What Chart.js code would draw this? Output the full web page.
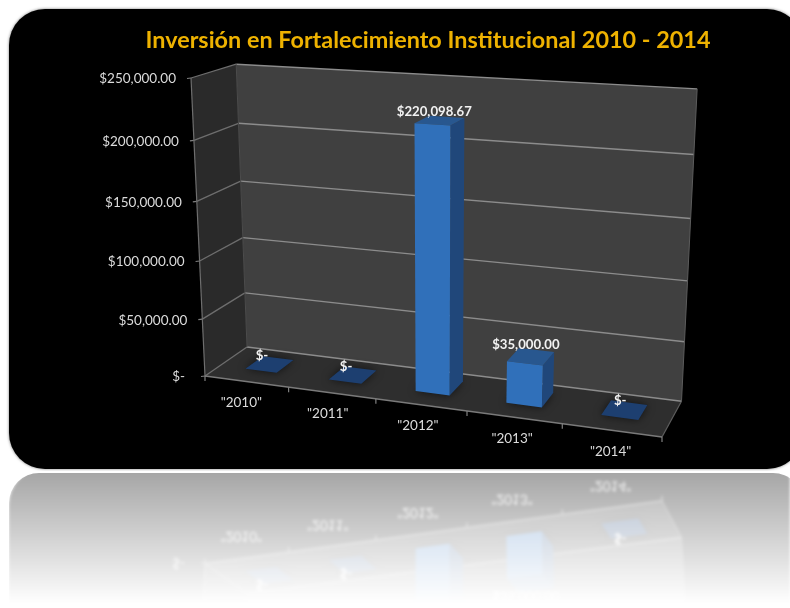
<!DOCTYPE html>
<html><head><meta charset="utf-8">
<style>html,body{margin:0;padding:0;background:#fff;overflow:hidden}canvas{display:block;filter:blur(0.45px)}</style>
<script src="https://cdn.jsdelivr.net/npm/chart.js@4"></script>
</head><body><canvas id="c" width="790" height="608"></canvas>
<script>
const categories = ['"2010"','"2011"','"2012"','"2013"','"2014"'];
const values = [0,0,220098.67,35000,0];
const titleText = 'Inversión en Fortalecimiento Institucional 2010 - 2014';
const yMax = 250000, yStep = 50000;

const FONT = 'Lato, Carlito, "Open Sans", sans-serif';
const money = (v)=> v===0 ? '$-' : '$'+v.toLocaleString('en-US',{minimumFractionDigits:2,maximumFractionDigits:2});

// cube corners on screen (u along categories, v along values, w depth)
const A=[205,376],C=[662,437],E=[191,78],B=[247,347];
const fit=[[1,0,1,[683,401]],[0,1,1,[238,66]],[1,1,1,[697,89]]];
function solveProj(){
  const rows=[],rhs=[];
  for(const [u,v,w,q] of fit){ for(const k of [0,1]){
    rows.push([u*(C[k]-q[k]),v*(E[k]-q[k]),w*(B[k]-q[k])]);
    rhs.push(q[k]-A[k]-u*(C[k]-A[k])-v*(E[k]-A[k])-w*(B[k]-A[k]));
  }}
  const M=[[0,0,0,0],[0,0,0,0],[0,0,0,0]];
  rows.forEach((r,n)=>{for(let i=0;i<3;i++){for(let j=0;j<3;j++)M[i][j]+=r[i]*r[j];M[i][3]+=r[i]*rhs[n];}});
  for(let i=0;i<3;i++){let p=i;for(let k=i+1;k<3;k++)if(Math.abs(M[k][i])>Math.abs(M[p][i]))p=k;
    [M[i],M[p]]=[M[p],M[i]];
    for(let k=0;k<3;k++){if(k===i)continue;const f=M[k][i]/M[i][i];for(let j=i;j<4;j++)M[k][j]-=f*M[i][j];}}
  return [M[0][3]/M[0][0],M[1][3]/M[1][1],M[2][3]/M[2][2]];
}
const [pp,qq,rr]=solveProj();
function P(u,v,w){
  const d=1+pp*u+qq*v+rr*w;
  return [0,1].map(k=>(A[k]+u*(C[k]*(1+pp)-A[k])+v*(E[k]*(1+qq)-A[k])+w*(B[k]*(1+rr)-A[k]))/d);
}
function poly(ctx,pts,fill){ctx.beginPath();pts.forEach((p,i)=>i?ctx.lineTo(p[0],p[1]):ctx.moveTo(p[0],p[1]));ctx.closePath();if(fill){ctx.fillStyle=fill;ctx.fill();}}
function line(ctx,a,b,col,lw){ctx.beginPath();ctx.moveTo(a[0],a[1]);ctx.lineTo(b[0],b[1]);ctx.strokeStyle=col;ctx.lineWidth=lw;ctx.stroke();}
function panelPath(ctx){ctx.beginPath();ctx.roundRect(9,9,794,460,36);}

const scene={
  id:'scene',
  beforeDraw(chart){
    const ctx=chart.ctx;ctx.save();
    ctx.fillStyle='#fff';ctx.fillRect(0,0,790,608);
    panelPath(ctx);ctx.fillStyle='#000';ctx.shadowColor='rgba(0,0,0,.55)';ctx.shadowBlur=3;ctx.fill();
    ctx.restore();
  },
  beforeDatasetsDraw(chart){
    const ctx=chart.ctx,x=chart.scales.x,y=chart.scales.y;
    const uOf=px=>(px-x.left)/x.width, vOf=py=>(y.bottom-py)/(y.bottom-y.top);
    ctx.save();
    // walls and floor
    poly(ctx,[P(0,1,1),P(1,1,1),P(1,0,1),P(0,0,1)],'#404040');
    poly(ctx,[P(0,1,0),P(0,1,1),P(0,0,1),P(0,0,0)],'#2a2a2a');
    poly(ctx,[P(0,0,0),P(1,0,0),P(1,0,1),P(0,0,1)],'#2e2e2e');
    // grid from the value axis ticks
    y.ticks.forEach(t=>{
      const v=vOf(y.getPixelForValue(t.value));
      line(ctx,P(0,v,0),P(0,v,1),'#6e6e6e',1.3);
      line(ctx,P(0,v,1),P(1,v,1),'#8c8c8c',1.4);
      const f=P(0,v,0);
      line(ctx,[f[0]-4,f[1]+.5],f,'#808080',1.2);
      ctx.fillStyle=y.options.ticks.color;ctx.font='13.5px '+FONT;ctx.textAlign='right';ctx.textBaseline='middle';
      ctx.fillText(t.label,f[0]-(v===0?20:15),f[1]+1);
    });
    line(ctx,P(0,1,0),P(0,0,0),'#6e6e6e',1.2);
    line(ctx,P(0,1,1),P(0,0,1),'#4c4c4c',1);
    line(ctx,P(1,1,1),P(1,0,1),'#5c5c5c',1);
    line(ctx,P(1,0,1),P(1,0,0),'#5e5e5e',1.2);
    line(ctx,P(0,0,0),P(1,0,0),'#7a7a7a',1.3);
    const band=x.width/categories.length;
    for(let i=0;i<=categories.length;i++){
      const f=P(uOf(x.left+i*band),0,0);
      line(ctx,f,[f[0],f[1]+5],'#808080',1.2);
    }
    categories.forEach((c,i)=>{
      const f=P(uOf(x.getPixelForValue(i)),0,0);
      ctx.fillStyle=x.options.ticks.color;ctx.font='13.5px '+FONT;ctx.textAlign='center';ctx.textBaseline='middle';
      ctx.fillText(c,f[0]-1-(4-i),f[1]+21);
    });
    // bars from the bar elements laid out by the library
    const meta=chart.getDatasetMeta(0), w0=.35,w1=.78;
    const labels=[];
    meta.data.forEach((el,i)=>{
      const u0=uOf(el.x-el.width/2),u1=uOf(el.x+el.width/2),v=vOf(el.y);
      ctx.save();ctx.shadowColor='rgba(0,0,0,.6)';ctx.shadowBlur=9;
      poly(ctx,[P(u0,0,w0),P(u1,0,w0),P(u1,0,w1),P(u0,0,w1)],'#1f1f1f');ctx.restore();
      if(v>0.001){
        const a=P(u0,v,w0),b=P(u1,v,w0);
        poly(ctx,[P(u1,0,w0),P(u1,0,w1),P(u1,v,w1),b],'#20477a');
        poly(ctx,[a,b,P(u1,v,w1),P(u0,v,w1)],'#28578f');
        poly(ctx,[a,b,P(u1,0,w0),P(u0,0,w0)],'#3070ba');
      } else {
        poly(ctx,[P(u0,0,w0),P(u1,0,w0),P(u1,0,w1),P(u0,0,w1)],'#1d3f70');
      }
      const um=(u0+u1)/2,t=P(um,v,w1);
      labels.push([money(values[i]),t[0]-17+9*um,t[1]-(v>0.001?5:2)]);
    });
    labels.forEach(l=>{ctx.fillStyle='#f2f2f2';ctx.font='bold 13.2px '+FONT;ctx.textAlign='center';ctx.textBaseline='middle';ctx.fillText(l[0],l[1],l[2]);});
    ctx.restore();
    return false;
  },
  afterDraw(chart){
    const ctx=chart.ctx, src=chart.canvas;
    const off=document.createElement('canvas');off.width=790;off.height=608;
    const o=off.getContext('2d');
    o.filter='blur(1.4px)';
    o.save();o.translate(0,951);o.scale(1,-1.03);
    o.drawImage(src,0,0,790,469,0,0,790,469);o.restore();
    o.filter='none';
    // keep the mirrored panel only
    o.globalCompositeOperation='destination-in';
    const g=o.createLinearGradient(0,473,0,604);
    g.addColorStop(0,'rgba(0,0,0,.35)');g.addColorStop(1,'rgba(0,0,0,0)');
    o.fillStyle=g;o.beginPath();o.roundRect(9,473,794,140,[30,30,0,0]);o.fill();
    ctx.save();
    ctx.fillStyle='#fff';ctx.fillRect(0,471,790,137);
    ctx.drawImage(off,0,0);
    ctx.restore();
  }
};

new Chart(document.getElementById('c'),{
  type:'bar',
  data:{labels:categories,datasets:[{data:values,backgroundColor:'#3070ba',barPercentage:.38,categoryPercentage:1}]},
  options:{
    responsive:false,animation:false,devicePixelRatio:1,
    layout:{padding:{left:66}},
    plugins:{
      legend:{display:false},tooltip:{enabled:false},
      title:{display:true,text:titleText,color:'#eeb200',font:{family:FONT,size:23.4,weight:'bold'},padding:{top:26,bottom:10}}
    },
    scales:{
      x:{display:false,ticks:{color:'#dcdcdc'}},
      y:{display:false,min:0,max:yMax,ticks:{stepSize:yStep,color:'#dcdcdc',callback:money}}
    }
  },
  plugins:[scene]
});
</script></body></html>
